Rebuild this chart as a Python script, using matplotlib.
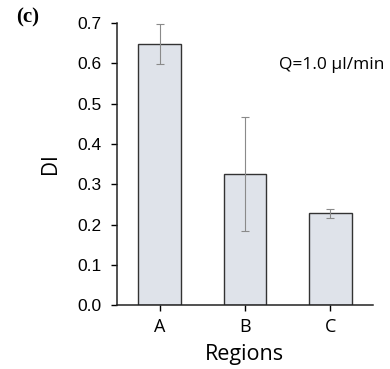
import numpy as np
import matplotlib.pyplot as plt

# values
regions = ["A", "B", "C"]
di_mean = [0.648, 0.326, 0.228]
err_low = [0.050, 0.141, 0.011]
err_high = [0.048, 0.141, 0.010]

plt.rcParams['font.family'] = ['Liberation Sans', 'DejaVu Sans']
sans = ['Open Sans', 'DejaVu Sans']

fig = plt.figure(figsize=(3.9, 3.69), dpi=100)
ax = fig.add_axes([0.30, 0.173, 0.656, 0.765])

x = np.arange(len(regions))
ax.bar(x, di_mean, width=0.5, color="#dfe3ea", edgecolor="#333333", linewidth=1.0,
       yerr=[err_low, err_high], ecolor="#8a8a8a",
       error_kw=dict(elinewidth=0.8, capsize=3, capthick=0.8))

yt = np.arange(0, 0.71, 0.1)
ax.set_xlim(-0.5, 2.5)
ax.set_ylim(0, 0.7)
ax.set_yticks(yt)
ax.set_yticklabels([f"{v:.1f}" for v in yt])
ax.set_xticks(x)
ax.set_xticklabels(regions, fontsize=13, family=sans)
ax.tick_params(axis='y', labelsize=12.5, length=4, width=1, direction='out', pad=7)
ax.tick_params(axis='x', length=4, width=1, direction='out', pad=5)
for s in ["top", "right"]:
    ax.spines[s].set_visible(False)
for s in ["left", "bottom"]:
    ax.spines[s].set_linewidth(1.1)
    ax.spines[s].set_color("#222222")

ax.set_ylabel("DI", fontsize=15, family=sans, labelpad=12)
ax.set_xlabel("Regions", fontsize=15.5, family=sans, labelpad=6)

ax.text(1.045, 0.85, "Q=1.0 µl/min", transform=ax.transAxes, ha="right", va="center",
        fontsize=12.5, family=sans)
fig.text(0.072, 0.952, "(c)", ha="center", va="center", fontsize=15,
         family=['Liberation Serif', 'DejaVu Serif'], fontweight="bold")

fig.savefig("out.png", dpi=100)
